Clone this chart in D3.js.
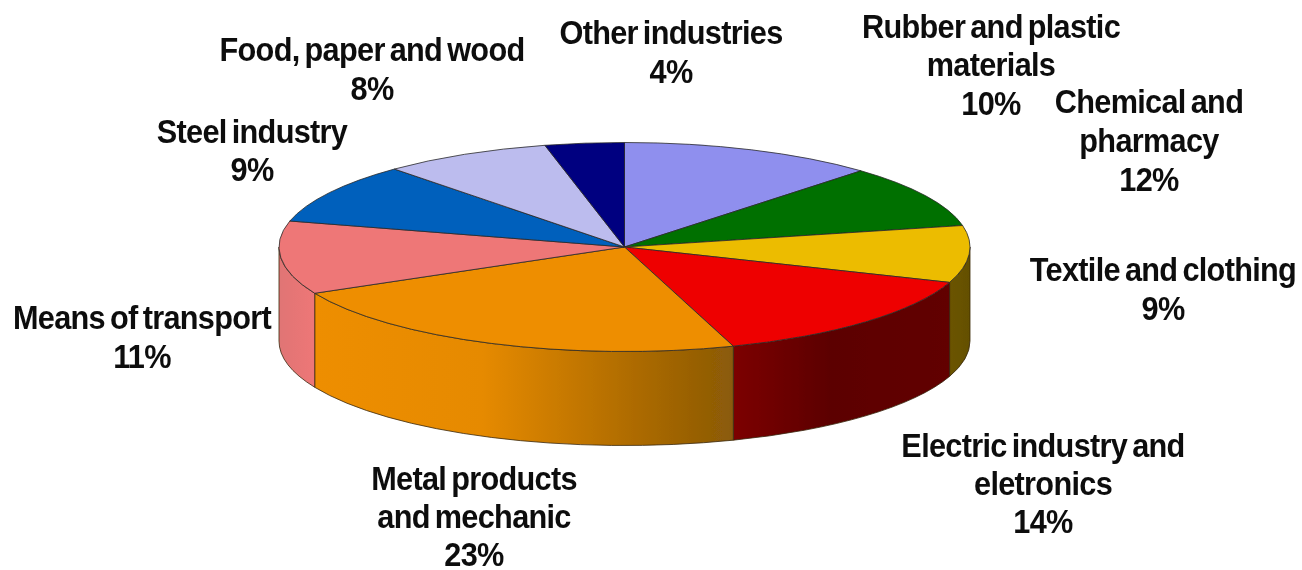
<!DOCTYPE html>
<html>
<head>
<meta charset="utf-8">
<title>Industries</title>
<script src="https://d3js.org/d3.v7.min.js"></script>
<style>
html, body { margin: 0; background: #fff; }
svg { display: block; }
text { font-family: "Liberation Sans", Arial, sans-serif; font-weight: bold; font-size: 33px; letter-spacing: -0.75px; word-spacing: -3px; fill: #111; text-anchor: middle; }
</style>
</head>
<body>
<svg id="chart" width="1302" height="570"></svg>
<script>
// clockwise from 12 o'clock
const categories = [
    ['Chemical and', 'pharmacy'],
    ['Rubber and plastic', 'materials'],
    ['Textile and clothing'],
    ['Electric industry and', 'eletronics'],
    ['Metal products', 'and mechanic'],
    ['Means of transport'],
    ['Steel industry'],
    ['Food, paper and wood'],
    ['Other industries']
];
// the labels show them rounded
const values = [12, 9.7, 8.8, 14.4, 22.8, 11.3, 9.4, 7.9, 3.7];

const topColors = ['#8f8fee', '#007000', '#ecbc00', '#ee0000', '#ee8e00', '#ee7777', '#0060bc', '#bcbcee', '#000080'];
// wall gradients, [offset, colour]
const wallStops = {
    2: [[0, '#6b5400'], [1, '#645000']],
    3: [[0, '#7c0000'], [0.45, '#5c0000'], [1, '#620000']],
    4: [[0, '#ee8e00'], [0.4, '#e68a00'], [0.8, '#a86800'], [1, '#8a5a08']],
    5: [[0, '#e07474'], [1, '#ee7777']]
};
// centre x and first baseline of each label, line spacing varies a little
const labelPos = [
    [1149, 113, 39], [991, 38, 38.5], [1163, 281, 39], [1043, 457, 38], [474, 490, 38],
    [142, 329, 39.5], [252, 143, 38.5], [372, 61, 39], [671, 44, 39]
];

const cx = 624.5, cy = 247, rx = 345.5, ry = 104.5, depth = 94;

const svg = d3.select('#chart');
const defs = svg.append('defs');

// the reference is a soft upscale
defs.append('filter').attr('id', 'soft')
    .attr('x', '-5%').attr('y', '-5%').attr('width', '110%').attr('height', '110%')
    .append('feGaussianBlur').attr('stdDeviation', 0.5);

const pie = d3.pie().sort(null).value(d => d)(values);
const pct = d3.format('.0f');

// unit circle angle -> screen, tilted disc
const sx = d3.scaleLinear().domain([-1, 1]).range([cx - rx, cx + rx]);
const sy = d3.scaleLinear().domain([-1, 1]).range([cy - ry, cy + ry]);
const px = a => sx(Math.sin(a));
const py = a => sy(-Math.cos(a));

// walls only show on the front half
const front = pie.map((d, i) => {
    let a0 = Math.max(d.startAngle, Math.PI / 2);
    let a1 = Math.min(d.endAngle, Math.PI * 3 / 2);
    return {i: i, a0: a0, a1: a1};
}).filter(d => d.a1 > d.a0);

front.forEach(function(w) {
    let x0 = px(w.a0), x1 = px(w.a1);
    let g = defs.append('linearGradient')
        .attr('id', 'wall' + w.i)
        .attr('gradientUnits', 'userSpaceOnUse')
        .attr('x1', Math.min(x0, x1)).attr('x2', Math.max(x0, x1))
        .attr('y1', 0).attr('y2', 0);
    wallStops[w.i].forEach(s => g.append('stop').attr('offset', s[0]).attr('stop-color', s[1]));
});

const pieG = svg.append('g').attr('filter', 'url(#soft)');

pieG.append('g').selectAll('path')
    .data(front)
    .enter()
    .append('path')
    .attr('d', function(w) {
        let x0 = px(w.a0), y0 = py(w.a0), x1 = px(w.a1), y1 = py(w.a1);
        return `M${x0},${y0} A${rx},${ry} 0 0 1 ${x1},${y1} L${x1},${y1 + depth} A${rx},${ry} 0 0 0 ${x0},${y0 + depth} Z`;
    })
    .attr('fill', w => `url(#wall${w.i})`)
    .attr('stroke', '#3a2a10')
    .attr('stroke-width', 0.8)
    .attr('stroke-linejoin', 'round');

const arc = d3.arc().innerRadius(0).outerRadius(rx);

pieG.append('g')
    .attr('transform', `translate(${cx},${cy}) scale(1,${ry / rx})`)
    .selectAll('path')
    .data(pie)
    .enter()
    .append('path')
    .attr('d', arc)
    .attr('fill', (d, i) => topColors[i])
    .attr('stroke', '#2a2a2a')
    .attr('stroke-width', 0.8)
    .attr('vector-effect', 'non-scaling-stroke')
    .attr('stroke-linejoin', 'round');

categories.forEach(function(lines, i) {
    let [x, y, lead] = labelPos[i];
    // squeezed sideways, the original type is tall and narrow
    let t = svg.append('text')
        .attr('filter', 'url(#soft)')
        .attr('transform', `translate(${x},${y}) scale(0.93,1)`);
    lines.concat(pct(values[i]) + '%').forEach(function(line, j) {
        t.append('tspan').attr('x', 0).attr('y', j * lead).text(line);
    });
});
</script>
</body>
</html>
